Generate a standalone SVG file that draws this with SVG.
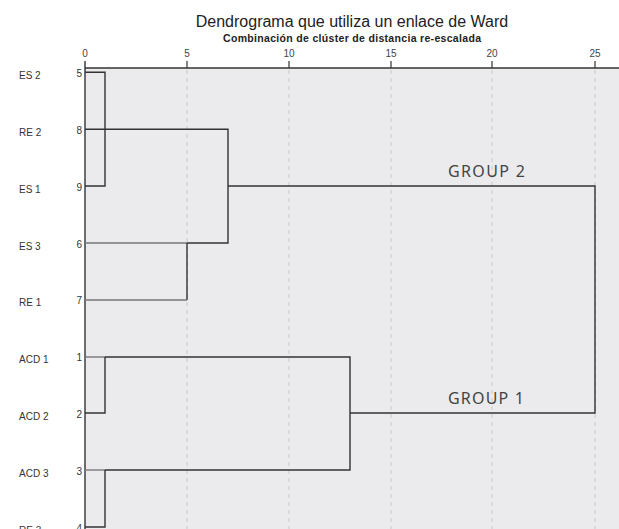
<svg xmlns="http://www.w3.org/2000/svg" width="619" height="529" viewBox="0 0 619 529">
<style>
.lbl{font-family:"Liberation Sans",Arial,sans-serif;font-size:10px;fill:#333}
.num{font-family:"Liberation Sans",Arial,sans-serif;font-size:10px;fill:#333;text-anchor:end}
.tick{font-family:"Liberation Sans",Arial,sans-serif;font-size:10px;fill:#444;text-anchor:middle}
.grid{stroke:#c9c9c9;stroke-width:1;stroke-dasharray:4,4;fill:none}
.ln{stroke:#333;stroke-width:1.4;fill:none}
.lt{stroke:#777;stroke-width:1.4;fill:none}
.grp{font-family:"Noto Sans","Open Sans",sans-serif;font-size:16px;fill:#444}
</style>
<rect x="0" y="0" width="619" height="529" fill="#ffffff"/>
<rect x="85" y="68" width="534" height="461" fill="#ebebed"/>
<g id="title">
<text x="352" y="27" font-family="'Liberation Sans',Arial,sans-serif" font-size="16" fill="#222" text-anchor="middle">Dendrograma que utiliza un enlace de Ward</text>
<text x="352" y="42" font-family="'Liberation Sans',Arial,sans-serif" font-size="10.5" font-weight="bold" fill="#222" text-anchor="middle" textLength="258">Combinación de clúster de distancia re-escalada</text>
</g>
<g id="axis">
<line x1="85" y1="68" x2="619" y2="68" stroke="#333" stroke-width="1.4"/>
<line x1="85" y1="61" x2="85" y2="529" stroke="#333" stroke-width="1.4"/>
<line x1="187" y1="61" x2="187" y2="68" stroke="#333" stroke-width="1.2"/>
<line x1="289" y1="61" x2="289" y2="68" stroke="#333" stroke-width="1.2"/>
<line x1="391" y1="61" x2="391" y2="68" stroke="#333" stroke-width="1.2"/>
<line x1="492" y1="61" x2="492" y2="68" stroke="#333" stroke-width="1.2"/>
<line x1="595" y1="61" x2="595" y2="68" stroke="#333" stroke-width="1.2"/>
<text class="tick" x="85" y="57">0</text>
<text class="tick" x="187" y="57">5</text>
<text class="tick" x="289" y="57">10</text>
<text class="tick" x="391" y="57">15</text>
<text class="tick" x="492" y="57">20</text>
<text class="tick" x="595" y="57">25</text>
<line class="grid" x1="187" y1="70" x2="187" y2="529"/>
<line class="grid" x1="289" y1="70" x2="289" y2="529"/>
<line class="grid" x1="391" y1="70" x2="391" y2="529"/>
<line class="grid" x1="492" y1="70" x2="492" y2="529"/>
<line class="grid" x1="595" y1="70" x2="595" y2="529"/>
</g>
<g id="leaf-es2"><text class="lbl" x="19" y="79">ES 2</text><text class="num" x="82" y="77">5</text></g>
<g id="leaf-re2"><text class="lbl" x="19" y="136">RE 2</text><text class="num" x="82" y="134">8</text></g>
<g id="leaf-es1"><text class="lbl" x="19" y="193">ES 1</text><text class="num" x="82" y="191">9</text></g>
<g id="leaf-es3"><text class="lbl" x="19" y="250">ES 3</text><text class="num" x="82" y="248">6</text></g>
<g id="leaf-re1"><text class="lbl" x="19" y="306">RE 1</text><text class="num" x="82" y="304">7</text></g>
<g id="leaf-acd1"><text class="lbl" x="19" y="363">ACD 1</text><text class="num" x="82" y="361">1</text></g>
<g id="leaf-acd2"><text class="lbl" x="19" y="420">ACD 2</text><text class="num" x="82" y="418">2</text></g>
<g id="leaf-acd3"><text class="lbl" x="19" y="477">ACD 3</text><text class="num" x="82" y="475">3</text></g>
<g id="leaf-re3"><text class="lbl" x="19" y="534">RE 3</text><text class="num" x="82" y="532">4</text></g>
<g id="connectors">
<polyline class="ln" points="85,72.3 105,72.3 105,186 85,186"/>
<polyline class="ln" points="85,129.3 228,129.3 228,243 187,243"/>
<line class="lt" x1="85" y1="243" x2="187" y2="243"/>
<polyline class="ln" points="187,243 187,300"/>
<line class="lt" x1="85" y1="300" x2="187" y2="300"/>
<polyline class="ln" points="228,186 595,186 595,413 350,413"/>
<polyline class="ln" points="105,357 350,357 350,470 105,470"/>
<line class="lt" x1="85" y1="357" x2="105" y2="357"/>
<line class="lt" x1="85" y1="470" x2="105" y2="470"/>
<polyline class="ln" points="105,357 105,413 85,413"/>
<polyline class="ln" points="105,470 105,527 85,527"/>
</g>
<g id="group2"><text class="grp" x="448" y="177" textLength="77">GROUP 2</text></g>
<g id="group1"><text class="grp" x="448" y="404" textLength="76">GROUP 1</text></g>
</svg>
